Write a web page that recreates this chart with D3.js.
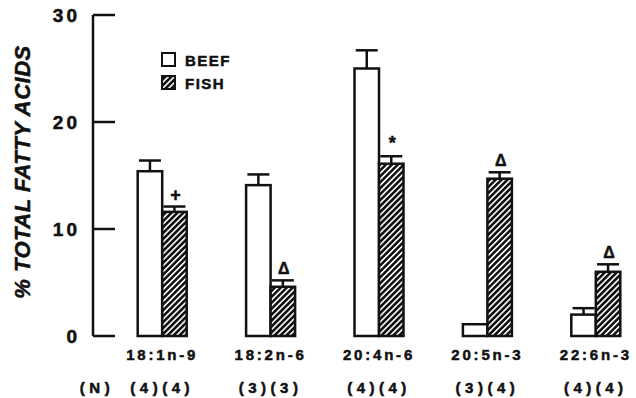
<!DOCTYPE html>
<html>
<head>
<meta charset="utf-8">
<script src="https://cdn.jsdelivr.net/npm/d3@7"></script>
<style>
  body { margin: 0; background: #fff; }
  text { font-family: "Liberation Sans", Arial, sans-serif; font-weight: bold; fill: #111; stroke: #111; stroke-width: 0.5; }
</style>
</head>
<body>
<svg width="636" height="398"></svg>
<script>
var categories = ['18:1n-9', '18:2n-6', '20:4n-6', '20:5n-3', '22:6n-3'];
var beef = [15.4, 14.1, 25.0, 1.1, 2.0];
var beefErr = [1.0, 1.0, 1.7, 0, 0.6];
var fish = [11.6, 4.6, 16.1, 14.7, 6.0];
var fishErr = [0.5, 0.6, 0.7, 0.6, 0.7];
var marks = ['+', '\u0394', '*', '\u0394', '\u0394'];
var nBeef = [4, 3, 4, 3, 4];
var nFish = [4, 3, 4, 4, 4];
var yTicks = [0, 10, 20, 30];

var svg = d3.select('svg');

var defs = svg.append('defs');
var pat = defs.append('pattern')
    .attr('id', 'hatch')
    .attr('patternUnits', 'userSpaceOnUse')
    .attr('width', 4.2).attr('height', 4.2)
    .attr('patternTransform', 'rotate(45)');
pat.append('rect').attr('width', 4.2).attr('height', 4.2).attr('fill', '#111');
pat.append('rect').attr('x', 0).attr('width', 1.6).attr('height', 4.2).attr('fill', '#fff');

var y = d3.scaleLinear().domain([0, 30]).range([336, 15]);
var x = d3.scaleBand().domain(categories).range([108, 650]).paddingInner(0).paddingOuter(0);
var barW = 24.5;

// axis
var axis = svg.append('g');
axis.append('line')
    .attr('x1', 93).attr('x2', 93)
    .attr('y1', y(30)).attr('y2', y(0))
    .attr('stroke', '#111').attr('stroke-width', 2.5);
axis.selectAll('.tick').data(yTicks).enter().append('line')
    .attr('x1', 93).attr('x2', 115)
    .attr('y1', d => y(d)).attr('y2', d => y(d))
    .attr('stroke', '#111').attr('stroke-width', 2.5);
axis.selectAll('.lbl').data(yTicks).enter().append('text')
    .attr('x', 80).attr('y', d => y(d) + 7)
    .attr('text-anchor', 'end')
    .attr('font-size', 19)
    .attr('letter-spacing', 3)
    .text(d => d);

svg.append('text')
    .attr('transform', 'translate(30,172) rotate(-90)')
    .attr('text-anchor', 'middle')
    .attr('font-size', 22)
    .attr('font-style', 'italic')
    .attr('letter-spacing', 0.5)
    .text('% TOTAL FATTY ACIDS');

var cx = d => x(d) + x.bandwidth() / 2;

var groups = svg.selectAll('.grp').data(categories).enter().append('g');

function drawBars(vals, errs, left, fill) {
  groups.append('rect')
    .attr('x', d => left ? cx(d) - barW : cx(d))
    .attr('y', (d, i) => y(vals[i]))
    .attr('width', barW)
    .attr('height', (d, i) => y(0) - y(vals[i]))
    .attr('fill', fill)
    .attr('stroke', '#111').attr('stroke-width', 2.5);
  var eb = groups.filter((d, i) => errs[i] > 0);
  var mid = d => left ? cx(d) - barW / 2 : cx(d) + barW / 2;
  eb.append('line')
    .attr('x1', mid).attr('x2', mid)
    .attr('y1', d => y(vals[categories.indexOf(d)]))
    .attr('y2', d => { var i = categories.indexOf(d); return y(vals[i] + errs[i]); })
    .attr('stroke', '#111').attr('stroke-width', 2.5);
  eb.append('line')
    .attr('x1', d => mid(d) - 11).attr('x2', d => mid(d) + 11)
    .attr('y1', d => { var i = categories.indexOf(d); return y(vals[i] + errs[i]); })
    .attr('y2', d => { var i = categories.indexOf(d); return y(vals[i] + errs[i]); })
    .attr('stroke', '#111').attr('stroke-width', 2.5);
}

drawBars(beef, beefErr, true, '#fff');
drawBars(fish, fishErr, false, 'url(#hatch)');

groups.append('text')
    .attr('x', d => cx(d) + barW / 2 + 1)
    .attr('y', (d, i) => y(fish[i] + fishErr[i]) - (marks[i] == '*' ? 7 : 6))
    .attr('text-anchor', 'middle')
    .attr('font-size', (d, i) => marks[i] == '\u0394' ? 16 : 18)
    .attr('font-weight', (d, i) => marks[i] == '\u0394' ? 'normal' : 'bold')
    .text((d, i) => marks[i]);

groups.append('text')
    .attr('x', cx).attr('y', 360)
    .attr('text-anchor', 'middle')
    .attr('font-size', 15)
    .attr('letter-spacing', 2.8)
    .text(d => d);

groups.append('text')
    .attr('x', cx).attr('y', 393)
    .attr('text-anchor', 'middle')
    .attr('font-size', 15)
    .attr('letter-spacing', 4.5)
    .text((d, i) => '(' + nBeef[i] + ')(' + nFish[i] + ')');

svg.append('text')
    .attr('x', 97).attr('y', 393)
    .attr('text-anchor', 'middle')
    .attr('font-size', 15)
    .attr('letter-spacing', 4.5)
    .text('(N)');

// legend
var legend = [['BEEF', '#fff'], ['FISH', 'url(#hatch)']];
var lg = svg.selectAll('.lg').data(legend).enter().append('g')
    .attr('transform', (d, i) => 'translate(162,' + (53 + i * 23) + ')');
lg.append('rect')
    .attr('width', 13).attr('height', 13)
    .attr('fill', d => d[1])
    .attr('stroke', '#111').attr('stroke-width', 2);
lg.append('text')
    .attr('x', 23).attr('y', 12.5)
    .attr('font-size', 15)
    .attr('letter-spacing', 1.5)
    .text(d => d[0]);
</script>
</body>
</html>
